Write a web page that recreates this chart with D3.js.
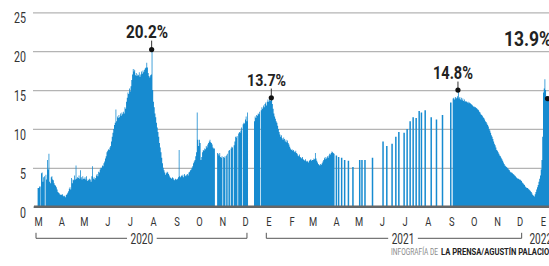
<!DOCTYPE html>
<html>
<head>
<meta charset="utf-8">
<script src="https://cdn.jsdelivr.net/npm/d3@7"></script>
<style>
body { margin: 0; background: #fff; }
svg { display: block; font-family: Roboto, "Liberation Sans", sans-serif; }
</style>
</head>
<body>
<svg id="chart" width="549" height="266"></svg>
<script>
// daily values in %, null = no report that day
const mar20 = [2.4, null, 2.6, null, 4.3, 4.4, 3.2, 3.8, 3.9, null, 4.1, 3.5, 6.0, 4.8, 6.8, 3.2, 3.0, 3.8, 3.9, 3.5, 3.4, 3.0, 2.8, 2.7, 2.5, 2.2, 1.9, 1.8, 1.7, 1.5, 1.6];
const apr20 = [1.5, 1.6, 1.4, 1.3, 1.4, 1.2, 1.5, 1.6, 1.8, 2.0, 2.3, 2.5, 2.2, 3.7, 3.0, 3.5, 3.4, 4.0, 3.5, 5.3, 3.6, 3.8, 3.7, 4.0, 3.6, 4.7, 3.8, 3.5, 3.9, 3.6];
const may20 = [3.6, 3.8, 3.5, 3.9, 3.3, 3.5, 3.4, 3.6, 3.5, 3.2, 3.9, 5.2, 3.6, 3.8, 3.5, 3.7, 4.0, 4.2, 3.9, 4.5, 4.4, 4.8, 5.0, 5.0, 5.3, 5.2, 5.6, 5.8, 6.2, 6.5, 7.0];
const jun20 = [7.2, 7.4, 7.3, 7.6, 7.8, 8.4, 9.0, 9.5, 10.0, 10.5, 10.8, 12.5, 11.0, 11.6, 11.4, 11.8, 11.5, 12.0, 11.7, 12.1, 11.9, 12.2, 12.0, 12.8, 12.6, 13.5, 14.0, 14.7, 14.5, 15.2];
const jul20 = [14.8, 15.5, 16.3, 17.0, 17.7, 17.4, 17.6, 16.9, 17.2, 16.8, 17.0, 16.9, 17.3, 16.7, 17.0, 17.4, 17.1, 17.5, 17.3, 17.6, 17.8, 17.9, 18.5, 17.9, 17.2, 16.8, 16.6, 16.9, 17.0, 20.2, 15.0];
const aug20 = [13.5, 12.8, 12.0, 11.5, 10.8, 10.2, 9.6, 9.0, 8.2, 7.6, 7.0, 6.3, 5.6, 5.0, 4.7, 4.4, 4.1, 4.3, 4.5, 4.4, 4.2, 4.0, 3.8, 3.7, 3.6, 3.8, 3.7, 3.5, 3.4, 3.6, 3.5];
const sep20 = [3.5, 3.6, 3.8, 7.3, 3.9, 3.8, 4.0, 3.9, 4.1, 3.8, 4.2, 4.0, 3.9, 4.1, 4.2, 4.0, 4.4, 4.5, 4.7, 4.8, 5.0, 5.2, 5.6, 5.8, 6.0, 6.5, 7.0, 12.1, 8.6, 7.8];
const oct20 = [8.6, 8.2, 6.0, 6.4, 7.0, 7.3, 7.2, 7.5, 7.4, 7.8, 7.6, 8.0, 8.2, 8.4, 8.6, 8.3, 8.2, 8.0, 7.6, 7.5, 7.5, null, null, null, 6.9, 6.8, 6.6, 6.9, 6.4, 6.3, 6.5];
const nov20 = [null, 6.4, 6.3, 6.5, null, 6.6, 6.8, null, 7.2, 7.3, null, 7.5, 7.7, 7.6, null, 7.9, 8.4, 9.0, 8.9, 9.1, null, 9.4, 9.6, 9.5, 9.8, 10.2, null, 10.6, 10.8, 10.7];
const dec20 = [11.2, 11.6, 11.0, 12.1, null, null, null, null, null, null, null, null, 11.0, 11.6, 11.4, 11.8, 11.7, 12.0, 11.9, 12.2, null, 12.4, 12.8, 12.6, 13.0, 12.8, 13.2, 13.4, 13.0, 13.5, 13.8];
const jan21 = [13.5, 13.8, 13.6, 13.7, 14.0, 13.2, 12.6, 12.0, 11.6, 11.3, 11.0, 10.8, 10.4, 10.0, 9.6, 9.3, 9.0, 9.2, 8.8, 8.6, 8.9, 8.7, 8.4, 8.6, 8.3, 8.5, 8.2, 8.0, 7.7, 7.5, 7.3];
const feb21 = [7.4, 7.2, 7.3, 7.1, 7.0, 7.2, 6.9, 6.8, 6.6, 6.5, 6.7, 6.4, 6.3, 6.2, 6.4, 6.1, 6.0, 5.9, 6.1, 5.8, 5.9, 5.8, 5.7, 5.9, 6.0, 6.1, 5.9, 6.0];
const mar21 = [6.0, 6.2, 6.1, 6.9, 6.2, 5.9, 5.7, 5.5, 5.4, 5.3, 5.5, 5.4, 5.6, 5.8, 6.0, 6.3, 6.1, 6.4, 6.2, 6.5, 6.3, 6.6, 6.8, 6.7, 6.9, 7.1, 7.0, 6.9, 6.8, null, null];
const sep21 = [null, null, 13.9, 14.0, 13.8, 14.1, 13.9, 14.0, 14.2, 15.0, 13.9, 14.1, 13.8, 14.0, 13.7, 13.9, 13.6, 13.8, 13.5, 13.6, 13.5, 13.4, 13.5, 13.3, 13.4, 13.3, 13.2, 13.1, 13.0, 12.9];
const oct21 = [12.9, 12.8, 12.8, 12.7, 12.6, 12.5, 12.4, 12.2, 12.1, 11.9, 11.8, 11.7, 11.5, 11.4, 11.2, 11.0, 10.9, 10.7, 10.5, 10.3, 10.0, 9.8, 9.5, 9.2, 9.0, 8.7, 8.4, 8.1, 7.9, 7.6, 7.3];
const nov21 = [7.2, 7.0, 6.8, 6.6, 6.5, 6.3, 6.1, 5.9, 5.7, 5.5, 5.3, 5.2, 5.1, 5.0, 4.9, 4.8, 4.7, 4.5, 4.4, 4.4, 4.3, 4.2, 4.1, 4.0, 3.9, 3.8, 3.7, 3.6, 3.6, 3.5];
const dec21 = [3.5, 3.4, 3.3, 3.1, 3.0, 2.9, 2.8, 2.6, 2.5, 2.4, 2.4, 2.3, 2.2, 2.1, 2.0, 1.9, 1.7, 1.5, 1.4, 1.3, 1.6, 1.9, 2.2, 2.5, 2.8, 3.2, 3.6, 4.0, 4.8, 6.0, 9.0];
const jan22 = [14.7, 15.2, 16.4, 15.0, 14.2, 13.8, 13.9, 13.9];

const blocks = [
  ["2020-03-01", mar20], ["2020-04-01", apr20], ["2020-05-01", may20], ["2020-06-01", jun20],
  ["2020-07-01", jul20], ["2020-08-01", aug20], ["2020-09-01", sep20], ["2020-10-01", oct20],
  ["2020-11-01", nov20], ["2020-12-01", dec20], ["2021-01-01", jan21], ["2021-02-01", feb21],
  ["2021-03-01", mar21], ["2021-09-01", sep21], ["2021-10-01", oct21], ["2021-11-01", nov21],
  ["2021-12-01", dec21], ["2022-01-01", jan22]
];

// april - august 2021 only had scattered reports
const sparseDates = ["2021-04-01", "2021-04-04", "2021-04-08", "2021-04-12", "2021-04-17", "2021-04-23",
  "2021-05-02", "2021-05-05", "2021-05-09", "2021-05-19", "2021-06-02", "2021-06-07", "2021-06-14",
  "2021-06-19", "2021-06-23", "2021-06-30", "2021-07-04", "2021-07-08", "2021-07-12", "2021-07-16",
  "2021-07-20", "2021-07-23", "2021-07-28", "2021-08-05", "2021-08-12", "2021-08-20", "2021-08-31"];
const sparseValues = [6.6, 6.4, 6.3, 6.0, 5.9, 5.1, 6.0, 6.0, 6.0, 6.3, 8.4, 7.8, 8.1, 9.0, 9.6, 9.5,
  10.0, 11.0, 11.5, 11.4, 12.3, 12.1, 12.4, 11.5, 11.2, 11.8, 13.4];

const monthLetters = ["M", "A", "M", "J", "J", "A", "S", "O", "N", "D", "E", "F", "M", "A", "M", "J", "J", "A", "S", "O", "N", "D", "E"];
const yTicks = [0, 5, 10, 15, 20, 25];

const years = ["2020", "2021", "2022"];
const yearFrom = ["2020-03-01", "2021-01-01", null];
const yearTo = ["2020-12-01", "2021-12-01", null];
const yearLabelAt = ["2020-07-17", "2021-06-29", "2021-12-29"];

const annDates = ["2020-07-30", "2021-01-05", "2021-09-10", "2022-01-07"];
const annLabels = ["20.2%", "13.7%", "14.8%", "13.9%"];

// label styling for the callouts (offset from the dot, size, width)
const annStyle = [
  {dx: -4.6, dy: -11.5, size: 18, w: 42, tick: true},
  {dx: -4.8, dy: -11.8, size: 17, w: 39, tick: true},
  {dx: -5, dy: -11, size: 18, w: 40, tick: true},
  {dx: -19.5, dy: -52.5, size: 20, w: 48, tick: false}
];

const barColor = "#178bd0";
const parse = d3.utcParse("%Y-%m-%d");

const rows = [];
blocks.forEach(([start, vals]) => {
  const s = parse(start);
  vals.forEach((v, i) => {
    if (v != null) rows.push({date: d3.utcDay.offset(s, i), value: v});
  });
});
sparseDates.forEach((d, i) => rows.push({date: parse(d), value: sparseValues[i]}));
rows.sort((a, b) => a.date - b.date);

const have = new Set(rows.map(d => +d.date));
rows.forEach(d => {
  d.isolated = !have.has(+d3.utcDay.offset(d.date, -1)) && !have.has(+d3.utcDay.offset(d.date, 1));
});

const svg = d3.select("#chart");

const x = d3.scaleUtc()
  .domain([parse("2020-03-01"), parse("2022-01-01")])
  .range([38, 543]);
const y = d3.scaleLinear().domain([0, 25]).range([206.7, 12.3]);
const step = x(parse("2020-03-02")) - x(parse("2020-03-01"));

function squeeze(sel, f) {
  sel.each(function() {
    const L = this.getComputedTextLength();
    this.setAttribute("textLength", L * f);
    this.setAttribute("lengthAdjust", "spacingAndGlyphs");
  });
}

// grid + y labels
const gy = svg.append("g")
  .attr("transform", "translate(33,0)")
  .call(d3.axisRight(y).tickValues(yTicks).tickSize(516));
gy.attr("font-family", null).attr("font-size", 14);
gy.select(".domain").remove();
gy.selectAll(".tick line").attr("stroke", "#b4b4b4").attr("stroke-width", 1.2);
gy.selectAll(".tick text")
  .attr("x", -7).attr("dy", "0.74em")
  .attr("text-anchor", "end").attr("fill", "#333")
  .call(squeeze, 0.76);

// bars: one path of rect subpaths so neighbouring days don't leave seams
const barPath = rows.map(d => {
  const w = d.isolated ? 1.5 : step + 0.04;
  const x0 = x(d.date) - (d.isolated ? 0.4 : 0);
  const y0 = y(d.value), h = y(0) - y0;
  return `M${x0.toFixed(2)},${y0.toFixed(2)}h${w.toFixed(2)}v${h.toFixed(2)}h${(-w).toFixed(2)}Z`;
}).join("");
svg.append("path").attr("d", barPath).attr("fill", barColor);

// baseline
svg.append("line")
  .attr("x1", 34).attr("x2", 549)
  .attr("y1", y(0)).attr("y2", y(0))
  .attr("stroke", "#666").attr("stroke-width", 2.5);

// month letters
const monthDates = d3.utcMonth.range(parse("2020-03-01"), parse("2022-01-02"));
const gx = svg.append("g")
  .attr("transform", `translate(0,${y(0)})`)
  .call(d3.axisBottom(x).tickValues(monthDates).tickSize(0)
    .tickFormat((d, i) => monthLetters[i]));
gx.attr("font-family", null).attr("font-size", 13);
gx.select(".domain").remove();
gx.selectAll(".tick text").attr("y", 10).attr("fill", "#333").call(squeeze, 0.72);

// year brackets
const by = 238.3;
const yg = svg.append("g").attr("stroke", "#555").attr("stroke-width", 1).attr("fill", "none");
years.forEach((yr, i) => {
  const lx = x(parse(yearLabelAt[i]));
  const t = svg.append("text")
    .attr("x", lx).attr("y", by + 5.3)
    .attr("text-anchor", "middle")
    .attr("font-size", 14).attr("fill", "#333")
    .text(yr);
  squeeze(t, 0.72);
  const half = t.node().getComputedTextLength() / 2 + 3.5;
  if (yearFrom[i]) {
    const x1 = x(parse(yearFrom[i])) - 2, x2 = x(parse(yearTo[i])) + 2;
    yg.append("path").attr("d", `M${x1},${by - 5.5}V${by}H${lx - half}M${lx + half},${by}H${x2}V${by - 5.5}`);
  }
});

// callouts
const byDate = new Map(rows.map(d => [+d.date, d.value]));
annDates.forEach((ds, i) => {
  const dt = parse(ds);
  const px = x(dt), py = y(byDate.get(+dt));
  const st = annStyle[i];
  if (st.tick) {
    svg.append("line")
      .attr("x1", px).attr("x2", px)
      .attr("y1", py + st.dy + 2.5).attr("y2", py - 2)
      .attr("stroke", "#333").attr("stroke-width", 1);
  }
  svg.append("circle").attr("cx", px).attr("cy", py).attr("r", 2.6).attr("fill", "#111");
  svg.append("text")
    .attr("x", px + st.dx).attr("y", py + st.dy)
    .attr("text-anchor", "middle")
    .attr("font-size", st.size).attr("font-weight", "bold").attr("fill", "#222")
    .attr("textLength", st.w).attr("lengthAdjust", "spacingAndGlyphs")
    .text(annLabels[i]);
});

// credit
svg.append("text")
  .attr("x", 391).attr("y", 255)
  .attr("font-size", 9).attr("fill", "#8a8a8a")
  .attr("textLength", 47).attr("lengthAdjust", "spacingAndGlyphs")
  .text("INFOGRAFÍA DE");
svg.append("text")
  .attr("x", 441).attr("y", 255)
  .attr("font-size", 9).attr("font-weight", "bold").attr("fill", "#222")
  .attr("textLength", 113).attr("lengthAdjust", "spacingAndGlyphs")
  .text("LA PRENSA/AGUSTÍN PALACIOS");
</script>
</body>
</html>
